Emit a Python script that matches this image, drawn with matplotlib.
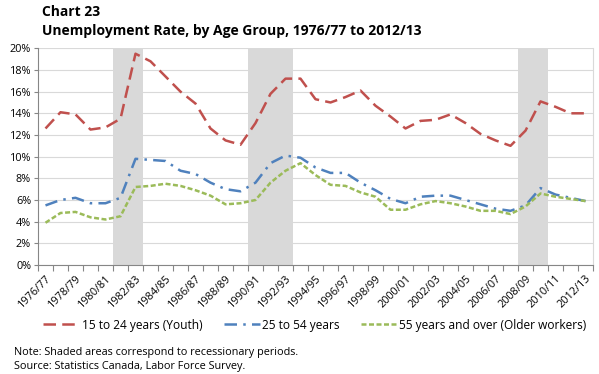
import numpy as np
import matplotlib.pyplot as plt

plt.rcParams['font.family'] = ['Open Sans', 'DejaVu Sans']

years = ["1976/77", "1977/78", "1978/79", "1979/80", "1980/81", "1981/82", "1982/83",
         "1983/84", "1984/85", "1985/86", "1986/87", "1987/88", "1988/89", "1989/90",
         "1990/91", "1991/92", "1992/93", "1993/94", "1994/95", "1995/96", "1996/97",
         "1997/98", "1998/99", "1999/00", "2000/01", "2001/02", "2002/03", "2003/04",
         "2004/05", "2005/06", "2006/07", "2007/08", "2008/09", "2009/10", "2010/11",
         "2011/12", "2012/13"]

youth = [12.6, 14.1, 13.9, 12.5, 12.7, 13.5, 19.5, 18.8, 17.4, 16.0, 14.9, 12.6, 11.5,
         11.1, 13.1, 15.8, 17.2, 17.2, 15.3, 15.0, 15.5, 16.1, 14.7, 13.7, 12.6, 13.3,
         13.4, 13.9, 13.1, 12.1, 11.5, 11.0, 12.4, 15.1, 14.6, 14.0, 14.0]
core = [5.5, 6.0, 6.2, 5.7, 5.7, 6.2, 9.8, 9.7, 9.6, 8.7, 8.4, 7.6, 7.0, 6.8, 7.6, 9.4,
        10.1, 9.9, 9.0, 8.5, 8.5, 7.6, 6.9, 6.1, 5.7, 6.3, 6.4, 6.4, 6.0, 5.6, 5.2, 5.0,
        5.5, 7.1, 6.5, 6.2, 5.9]
older = [3.9, 4.8, 4.9, 4.4, 4.2, 4.5, 7.2, 7.3, 7.5, 7.3, 6.9, 6.4, 5.6, 5.7, 6.0, 7.6,
         8.7, 9.4, 8.3, 7.4, 7.3, 6.7, 6.3, 5.1, 5.1, 5.6, 5.9, 5.7, 5.4, 5.0, 5.0, 4.7,
         5.4, 6.6, 6.3, 6.1, 5.9]

# recessions: (first year index, number of years)
recessions = [(5, 2), (14, 3), (32, 2)]

x = np.arange(len(years))

fig = plt.figure(figsize=(5.99, 3.74), dpi=100)
ax = fig.add_axes([38/599, 1-265/374, 555/599, (265-48.3)/374])

for start, n in recessions:
    ax.axvspan(start-0.5, start-0.5+n, color='#D9D9D9', lw=0, zorder=0)

ax.plot(x, youth, color='#C0504D', lw=1.8, dashes=(5, 2.5), label='15 to 24 years (Youth)', zorder=3)
ax.plot(x, core, color='#4F81BD', lw=1.8, dashes=(5, 2.5, 1, 2.5), label='25 to 54 years', zorder=3)
ax.plot(x, older, color='#9BBB59', lw=1.8, dashes=(2, 1), label='55 years and over (Older workers)', zorder=3)

ax.set_xlim(-0.5, len(years)-0.5)
ax.set_ylim(0, 20)
ax.set_yticks(np.arange(0, 21, 2))
ax.set_yticklabels([f"{v}%" for v in range(0, 21, 2)], fontsize=7.8)
ax.yaxis.grid(True, color='#D9D9D9', lw=0.8)
ax.set_axisbelow(True)

ax.set_xticks(np.arange(-0.5, len(years), 1))
ax.set_xticklabels([])
ax.set_xticks(x[::2], minor=True)
ax.set_xticklabels(years[::2], minor=True, rotation=45, ha='right',
                   rotation_mode='anchor', fontsize=7.8)
ax.tick_params(axis='x', which='major', length=4, color='#868686')
ax.tick_params(axis='x', which='minor', length=0, pad=6)
ax.tick_params(axis='y', length=3, color='#868686', pad=2)

ax.spines['top'].set_visible(False)
ax.spines['left'].set_color('#868686')
ax.spines['bottom'].set_color('#868686')
ax.spines['right'].set_color('#D9D9D9')

fig.text(42/599, 1-12/374, "Chart 23", fontsize=10, fontweight='bold', va='center')
fig.text(42/599, 1-31/374, "Unemployment Rate, by Age Group, 1976/77 to 2012/13",
         fontsize=10, fontweight='bold', va='center')

fig.legend(loc='center', bbox_to_anchor=(315/599, 1-325/374), ncol=3, frameon=False,
           fontsize=8.6, handlelength=3.0, columnspacing=1.8, handletextpad=0.2)

fig.text(14/599, 1-352/374, "Note: Shaded areas correspond to recessionary periods.",
         fontsize=7.8, va='center')
fig.text(14/599, 1-367/374, "Source: Statistics Canada, Labor Force Survey.",
         fontsize=7.8, va='center')

fig.savefig('out.png', dpi=100)
